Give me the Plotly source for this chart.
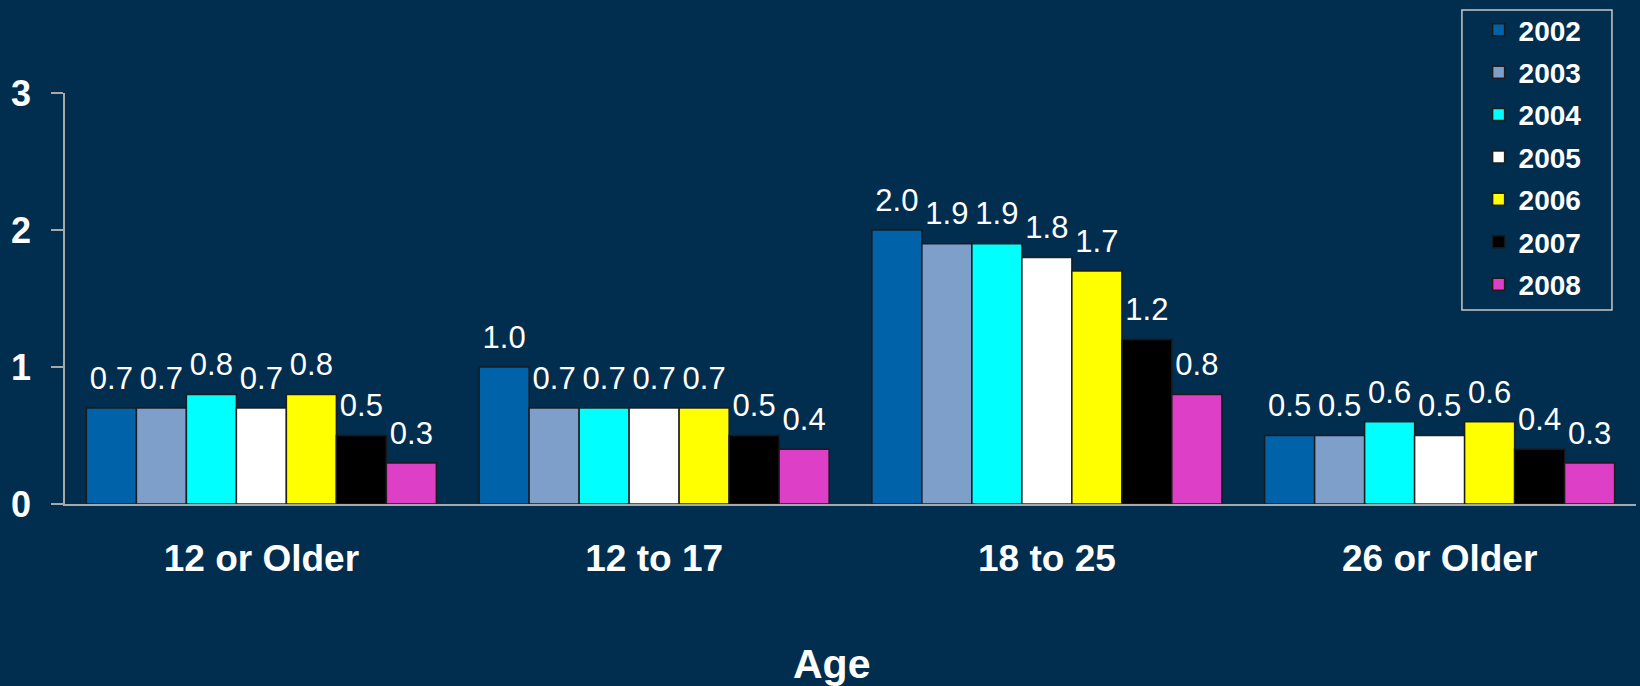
import plotly.graph_objects as go

# Age groups on the x axis and the survey years drawn as grouped bars
age_groups = ["12 or Older", "12 to 17", "18 to 25", "26 or Older"]
years = ["2002", "2003", "2004", "2005", "2006", "2007", "2008"]

# Percent values per year, one entry per age group
v2002 = [0.7, 1.0, 2.0, 0.5]
v2003 = [0.7, 0.7, 1.9, 0.5]
v2004 = [0.8, 0.7, 1.9, 0.6]
v2005 = [0.7, 0.7, 1.8, 0.5]
v2006 = [0.8, 0.7, 1.7, 0.6]
v2007 = [0.5, 0.5, 1.2, 0.4]
v2008 = [0.3, 0.4, 0.8, 0.3]
series = [v2002, v2003, v2004, v2005, v2006, v2007, v2008]

bar_colors = ["#0063A9", "#7F9FCB", "#00FFFF", "#FFFFFF",
              "#FFFF00", "#000000", "#DD40C6"]

y_ticks = [0, 1, 2, 3]

BG = "#012D4F"
AXIS_GREY = "#A8A8A8"
FONT = "Liberation Sans, Arial, sans-serif"

fig = go.Figure()
for year, vals, color in zip(years, series, bar_colors):
    fig.add_trace(go.Bar(
        name=year,
        x=age_groups,
        y=vals,
        legendgroup=year,
        marker=dict(color=color, line=dict(color="rgba(25,25,25,0.95)", width=1.5)),
        # value label; the small transparent second line lifts it off the bar top
        texttemplate=("<span style='font-size:31px'>%{y:.1f}</span>"
                      "<br><span style='color:rgba(0,0,0,0)'>.</span>"),
        textposition="outside",
        textfont=dict(family=FONT, size=11, color="white"),
        constraintext="none",
        cliponaxis=False,
    ))

fig.update_layout(
    width=1640, height=686,
    paper_bgcolor=BG, plot_bgcolor=BG,
    barmode="group", bargap=0.109, bargroupgap=0,
    margin=dict(l=65, r=4, t=93, b=182),
    font=dict(family=FONT, color="white"),
    showlegend=True,
    legend=dict(
        x=0.889, y=1.214, xanchor="left", yanchor="top",
        bgcolor="rgba(0,0,0,0)", borderwidth=0,
        font=dict(family=FONT, size=28, color="white", weight="bold"),
        tracegroupgap=3, indentation=17,
    ),
    # frame drawn around the legend entries
    shapes=[dict(
        type="rect", xref="paper", yref="paper",
        x0=0.8892, x1=0.9847, y0=0.472, y1=1.2019,
        line=dict(color="#C8C8C8", width=1.5), fillcolor="rgba(0,0,0,0)",
        layer="below",
    )],
    annotations=[dict(
        text="Age", xref="paper", yref="paper", x=0.488, y=-0.39,
        xanchor="center", yanchor="middle", showarrow=False,
        font=dict(family=FONT, size=41, color="white", weight="bold"),
    )],
)

fig.update_xaxes(
    showline=True, linecolor=AXIS_GREY, linewidth=1.5,
    showgrid=False, ticks="", ticklabelstandoff=21,
    tickfont=dict(family=FONT, size=37, color="white", weight="bold"),
)
fig.update_yaxes(
    range=[0, 3], tickvals=y_ticks, ticktext=[str(t) for t in y_ticks],
    showline=True, linecolor=AXIS_GREY, linewidth=1.5,
    showgrid=False, zeroline=False,
    ticks="outside", ticklen=12, tickcolor=AXIS_GREY, tickwidth=1.5,
    ticklabelstandoff=13,
    tickfont=dict(family=FONT, size=36, color="white", weight="bold"),
)

fig.write_html("out.html")
